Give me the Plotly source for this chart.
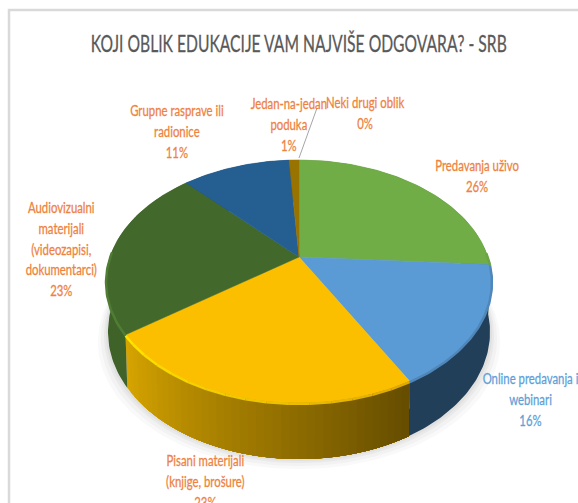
import numpy as np
import plotly.graph_objects as go

title = "KOJI OBLIK EDUKACIJE VAM NAJVIŠE ODGOVARA? - SRB"
categories = ["Predavanja uživo", "Online predavanja i<br>webinari", "Pisani materijali<br>(knjige, brošure)",
              "Audiovizualni<br>materijali<br>(videozapisi,<br>dokumentarci)", "Grupne rasprave ili<br>radionice",
              "Jedan-na-jedan<br>poduka", "Neki drugi oblik"]
values = [26, 16, 23, 23, 11, 1, 0]
top_colors = ["#70ad47", "#5b9bd5", "#fbbf00", "#43682b", "#255e91", "#997300", "#636363"]
wall_left = ["#4d7a30", "#223f59", "#d6a400", "#3f6229", "#1c4468", "#6b5000", "#444444"]
wall_right = ["#4d7a30", "#223f59", "#664d00", "#3f6229", "#1c4468", "#6b5000", "#444444"]
rim_left = ["#6aa443", "#4f87ba", "#ffe400", "#4f7d33", "#255e91", "#997300", "#636363"]
rim_right = ["#6aa443", "#4f87ba", "#e0aa00", "#4f7d33", "#255e91", "#997300", "#636363"]
label_x = [477, 530, 205, 61, 177, 289, 365]
label_y = [175, 398, 480, 248, 130, 123, 112]
label_colors = ["#ee8240", "#5f9fd8", "#ee8240", "#ee8240", "#ee8240", "#ee8240", "#ee8240"]

# projection of the pie plane onto the page (page pixels)
CX, CY, A, B, C = 299.0, 257.0, 189.0, 64.8, -0.2016


def project(theta):
    h, v = np.sin(theta), -np.cos(theta)
    w = 1 + C * v
    return CX + A * h / w, (CY + B * v) / w, v


def lower(theta):
    x, y, v = project(theta)
    return CX + (x - CX) * 0.99, y + 49 + 7 * v


def mix(c1, c2, t):
    a = [int(c1[i:i + 2], 16) for i in (1, 3, 5)]
    b = [int(c2[i:i + 2], 16) for i in (1, 3, 5)]
    return "#" + "".join(f"{round(p + (q - p) * t):02x}" for p, q in zip(a, b))


fig = go.Figure()


def poly(x, y, color, line=0.0, opacity=1.0):
    fig.add_trace(go.Scatter(x=x, y=y, mode="lines", fill="toself", fillcolor=color, opacity=opacity,
                             line=dict(color=color, width=line), hoverinfo="skip", showlegend=False))


# soft shadow
full = np.linspace(0, 2 * np.pi, 240)
for grow, alpha in [(10, 0.05), (7, 0.06), (4, 0.07), (2, 0.08)]:
    lx, ly = lower(full)
    poly(CX + (lx - CX) * (1 + grow / 190), ly + grow, "#808080", 0, alpha)

fractions = np.cumsum([0] + values) / sum(values)

# side walls: each step is painted over the rest of the slice so no seams show
for i, val in enumerate(values):
    if val == 0:
        continue
    t0, t1 = 2 * np.pi * fractions[i], 2 * np.pi * fractions[i + 1]
    steps = 40 if wall_left[i] != wall_right[i] else 1
    edges = np.linspace(t1, t0, steps + 1)  # clockwise angle runs right-to-left along the front
    for j in range(steps):
        seg = np.linspace(t0, edges[j], 60)
        x, y, _ = project(seg)
        lx, ly = lower(seg)
        color = mix(wall_left[i], wall_right[i], j / max(steps - 1, 1))
        poly(np.r_[x, lx[::-1], x[0]], np.r_[y, ly[::-1], y[0]], color, 0)

# top faces
for i, val in enumerate(values):
    if val == 0:
        continue
    seg = np.linspace(2 * np.pi * fractions[i], 2 * np.pi * fractions[i + 1], 80)
    x, y, _ = project(seg)
    poly(np.r_[CX, x, CX], np.r_[CY, y, CY], top_colors[i], 0.5)

# bevel highlight along the front rim
for i, val in enumerate(values):
    if val == 0:
        continue
    seg = np.linspace(2 * np.pi * fractions[i], 2 * np.pi * fractions[i + 1], 80)
    seg = seg[-np.cos(seg) > -0.05]
    if len(seg) < 2:
        continue
    pieces = 16 if rim_left[i] != rim_right[i] else 1
    parts = np.array_split(seg, pieces)
    for k, part in enumerate(parts):
        part = np.r_[part, seg[min(np.searchsorted(seg, part[-1]) + 1, len(seg) - 1)]]
        x, y, _ = project(part)
        color = mix(rim_right[i], rim_left[i], k / max(pieces - 1, 1))
        fig.add_trace(go.Scatter(x=x, y=y + 1, mode="lines", line=dict(color=color, width=2.5),
                                 hoverinfo="skip", showlegend=False))

# leader line of the small slice
fig.add_trace(go.Scatter(x=[299, 317], y=[158, 108], mode="lines", line=dict(color="#a6a6a6", width=1),
                         hoverinfo="skip", showlegend=False))

FONT = "Lato, sans-serif"
for cat, val, lx, ly, col in zip(categories, values, label_x, label_y, label_colors):
    fig.add_annotation(x=lx, y=ly, xref="x", yref="y", text=f"{cat}<br>{val}%", showarrow=False,
                       font=dict(family=FONT, size=16, color=col), align="center")
fig.add_annotation(x=299, y=42, xref="x", yref="y", text=title, showarrow=False,
                   font=dict(family=FONT, size=24, color="#595959"))

fig.update_layout(
    width=578, height=503, margin=dict(l=0, r=0, t=0, b=0), paper_bgcolor="white", plot_bgcolor="white",
    xaxis=dict(range=[0, 578], visible=False, fixedrange=True),
    yaxis=dict(range=[503, 0], visible=False, fixedrange=True),
    shapes=[dict(type="rect", x0=9, y0=10, x1=600, y1=530, line=dict(color="#d9d9d9", width=2.5), layer="below")],
)
page_style = """
var s = document.createElement('style');
s.textContent = 'html,body{margin:0;padding:0;overflow:hidden;}'
  + '.annotation-text{transform-box:fill-box;transform-origin:center;transform:scaleX(0.71);stroke-width:0.3px;}'
  + '.annotation[data-index="7"] .annotation-text{transform:scaleX(0.653);}';
document.head.appendChild(s);
document.querySelectorAll('.annotation-text').forEach(function (t) { t.style.stroke = t.style.fill; });
"""
fig.write_html("out.html", post_script=page_style, config={"displayModeBar": False})
